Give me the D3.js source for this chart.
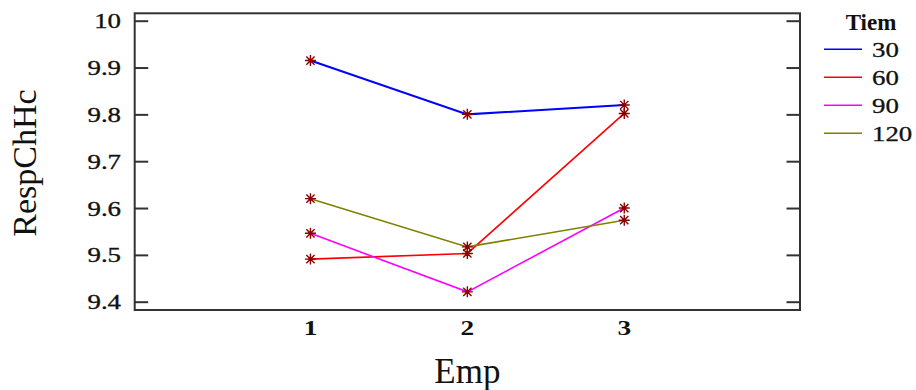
<!DOCTYPE html>
<html>
<head>
<meta charset="utf-8">
<script src="https://cdn.jsdelivr.net/npm/d3@7"></script>
<style>
  html, body { margin: 0; padding: 0; background: #ffffff; }
  svg { display: block; }
</style>
</head>
<body>
<div id="chart"></div>
<script>
// Interaction plot: mean response by Emp level, one line per Tiem level
const empLevels = [1, 2, 3];
const tiemLevels = ["30", "60", "90", "120"];
const resp30  = [9.915, 9.800, 9.820];
const resp60  = [9.491, 9.503, 9.802];
const resp90  = [9.546, 9.421, 9.600];
const resp120 = [9.620, 9.517, 9.574];
const yTicks = [9.4, 9.5, 9.6, 9.7, 9.8, 9.9, 10];
const xTicks = [1, 2, 3];
const seriesColors = ["#0000ff", "#ff0000", "#ff00ff", "#808000"];

const seriesValues = [resp30, resp60, resp90, resp120];
const series = tiemLevels.map((t, i) => ({
  name: t,
  color: seriesColors[i],
  points: empLevels.map((e, j) => ({ x: e, y: seriesValues[i][j] }))
}));

const W = 916, H = 390;
const box = { left: 134.7, right: 800, top: 13.3, bottom: 310 };
const serif = "'Liberation Serif', 'Times New Roman', serif";
const numStretch = 1.22;

const svg = d3.select("#chart").append("svg")
  .attr("width", W).attr("height", H);

svg.append("rect").attr("width", W).attr("height", H).attr("fill", "#ffffff");

const x = d3.scaleLinear().domain([-0.12, 4.12]).range([box.left, box.right]);
const y = d3.scaleLinear().domain([9.4, 10]).range([301.7, 20.7]);

// Frame
svg.append("rect")
  .attr("x", box.left).attr("y", box.top)
  .attr("width", box.right - box.left).attr("height", box.bottom - box.top)
  .attr("fill", "none").attr("stroke", "#333").attr("stroke-width", 2);

// Inward ticks on both vertical sides
const tickLen = 13.5;
const yAxisL = d3.axisRight(y).tickValues(yTicks).tickSize(tickLen).tickFormat("");
const yAxisR = d3.axisLeft(y).tickValues(yTicks).tickSize(tickLen).tickFormat("");
[[yAxisL, box.left], [yAxisR, box.right]].forEach(([ax, pos]) => {
  const g = svg.append("g").attr("transform", `translate(${pos},0)`).call(ax);
  g.select(".domain").remove();
  g.selectAll(".tick line").attr("stroke", "#333").attr("stroke-width", 2);
});

// Y tick labels
svg.append("g").selectAll("g").data(yTicks).join("g")
  .attr("transform", d => `translate(121,${y(d)}) scale(${numStretch},1)`)
  .append("text")
  .attr("text-anchor", "end").attr("dy", "0.34em")
  .attr("font-family", serif).attr("font-size", 22).attr("fill", "#111")
  .attr("stroke", "#111").attr("stroke-width", 0.35)
  .text(d => d3.format("")(d));

// X tick labels
svg.append("g").selectAll("g").data(xTicks).join("g")
  .attr("transform", d => `translate(${x(d)},335) scale(1.3,1)`)
  .append("text")
  .attr("text-anchor", "middle")
  .attr("font-family", serif).attr("font-size", 21).attr("font-weight", "bold").attr("fill", "#111")
  .text(d => d);

// Axis titles
svg.append("text")
  .attr("x", (box.left + box.right) / 2).attr("y", 383)
  .attr("text-anchor", "middle")
  .attr("font-family", serif).attr("font-size", 35).attr("fill", "#111")
  .text("Emp");

svg.append("text")
  .attr("transform", "translate(36,163) rotate(-90)")
  .attr("text-anchor", "middle")
  .attr("font-family", serif).attr("font-size", 34).attr("fill", "#111")
  .text("RespChHc");

// Lines
const line = d3.line().x(d => x(d.x)).y(d => y(d.y));
svg.append("g").selectAll("path").data(series).join("path")
  .attr("d", d => line(d.points))
  .attr("fill", "none").attr("stroke", d => d.color)
  .attr("stroke-width", (d, i) => i === 0 ? 2 : 1.6);

// Asterisk markers (eight spokes)
const r = 5.5, rd = r * 0.75;
const star = `M${-r},0L${r},0M0,${-r}L0,${r}M${-rd},${-rd}L${rd},${rd}M${-rd},${rd}L${rd},${-rd}`;
const allPts = series.flatMap(s => s.points);
const mk = svg.append("g").selectAll("g").data(allPts).join("g")
  .attr("transform", d => `translate(${x(d.x)},${y(d.y)})`);
mk.append("path").attr("d", star)
  .attr("stroke", "#8b0000").attr("stroke-width", 1.4).attr("fill", "none");
mk.append("circle").attr("r", 2).attr("fill", "#8b0000");

// Legend
const lg = svg.append("g");
lg.append("text")
  .attr("x", 871).attr("y", 29.5).attr("text-anchor", "middle")
  .attr("font-family", serif).attr("font-size", 23).attr("font-weight", "bold").attr("fill", "#111")
  .text("Tiem");
const items = lg.selectAll("g.item").data(series).join("g")
  .attr("class", "item")
  .attr("transform", (d, i) => `translate(0,${49.3 + i * 28})`);
items.append("line")
  .attr("x1", 824).attr("x2", 862).attr("y1", 0).attr("y2", 0)
  .attr("stroke", d => d.color).attr("stroke-width", 1.6);
items.append("g")
  .attr("transform", `translate(872,7.5) scale(${numStretch},1)`)
  .append("text")
  .attr("font-family", serif).attr("font-size", 22).attr("fill", "#111")
  .attr("stroke", "#111").attr("stroke-width", 0.3)
  .text(d => d.name);
</script>
</body>
</html>
